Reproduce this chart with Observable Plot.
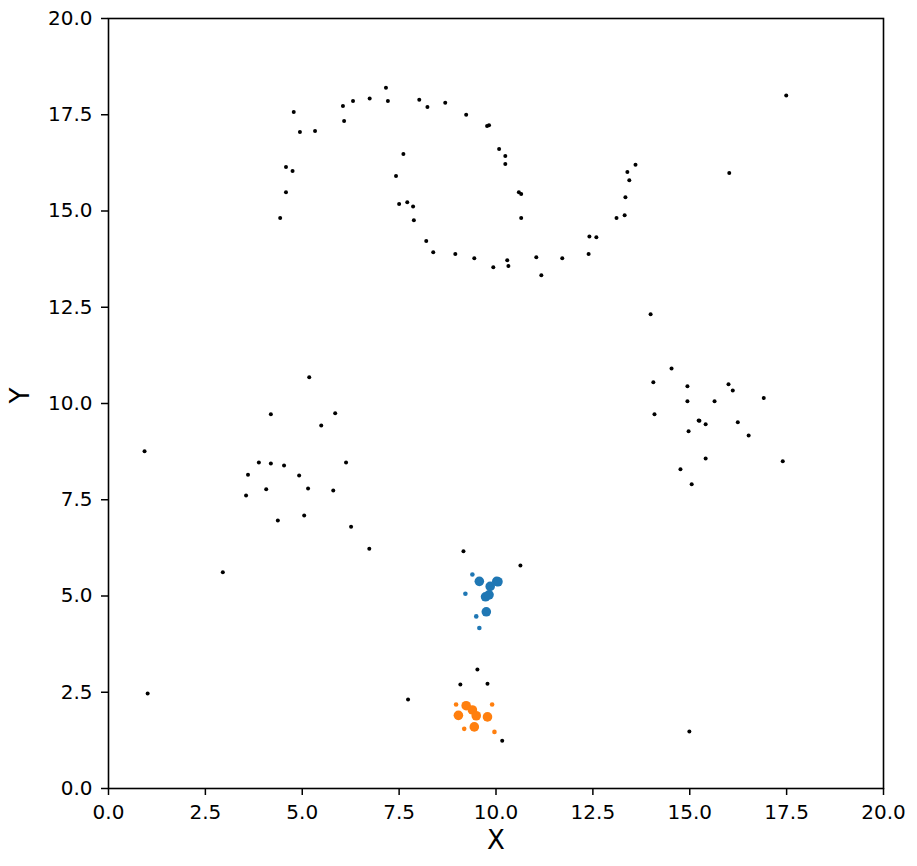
<!DOCTYPE html>
<html>
<head>
<meta charset="utf-8">
<script src="https://cdn.jsdelivr.net/npm/d3@7"></script>
<script src="https://cdn.jsdelivr.net/npm/@observablehq/plot@0.6"></script>
<style>
  html, body { margin: 0; padding: 0; background: #fff; }
  #chart svg { display: block; }
</style>
</head>
<body>
<div id="chart"></div>
<script>
// Background (noise / ring / clusters) points
const blackX = [7.16,4.78,4.94,5.33,6.05,6.08,6.31,6.74,7.21,8.02,8.23,8.69,9.23,9.77,9.82,10.08,10.24,10.24,10.59,10.65,10.65,4.58,4.75,4.58,4.43,7.61,7.42,7.50,7.71,7.86,7.88,8.20,8.38,8.95,9.44,9.93,10.29,10.32,11.04,11.17,11.71,12.39,12.41,12.59,13.11,13.32,13.34,13.44,13.39,13.60,17.49,16.02,
  13.99,14.53,14.06,14.94,14.94,14.09,16.00,16.11,15.64,16.91,15.23,15.25,15.41,14.97,16.24,16.52,15.41,17.40,14.76,15.05,
  5.18,4.19,5.85,5.49,3.88,4.19,4.53,3.60,6.13,4.92,4.07,3.55,5.15,5.80,4.37,5.05,6.26,6.73,
  0.93,2.95,1.01,14.99,7.73,9.16,10.63,9.52,9.08,9.78,10.16];
const blackY = [18.20,17.57,17.05,17.08,17.73,17.34,17.86,17.92,17.86,17.89,17.70,17.81,17.50,17.21,17.23,16.61,16.43,16.22,15.49,15.44,14.82,16.14,16.04,15.49,14.82,16.48,15.91,15.18,15.23,15.12,14.76,14.22,13.93,13.88,13.77,13.54,13.72,13.57,13.80,13.33,13.77,13.88,14.34,14.32,14.82,14.89,15.36,15.80,16.01,16.20,18.00,15.99,
  12.32,10.91,10.55,10.45,10.06,9.72,10.50,10.34,10.06,10.14,9.56,9.55,9.46,9.28,9.51,9.17,8.57,8.50,8.29,7.90,
  10.68,9.72,9.75,9.43,8.47,8.44,8.39,8.15,8.47,8.13,7.77,7.61,7.79,7.74,6.96,7.09,6.80,6.23,
  8.76,5.62,2.47,1.48,2.31,6.16,5.79,3.09,2.70,2.72,1.24];

// Blue cluster
const blueSmallX = [9.39,9.21,9.49,9.57];
const blueSmallY = [5.56,5.06,4.47,4.17];
const blueLargeX = [9.57,9.85,10.02,10.05,9.73,9.82,9.75];
const blueLargeY = [5.38,5.25,5.38,5.37,4.98,5.03,4.59];

// Orange cluster
const orangeSmallX = [8.97,9.90,9.18,9.96];
const orangeSmallY = [2.18,2.18,1.55,1.47];
const orangeLargeX = [9.23,9.39,9.49,9.03,9.78,9.44];
const orangeLargeY = [2.15,2.04,1.89,1.90,1.86,1.60];

const xTicks = [0, 2.5, 5, 7.5, 10, 12.5, 15, 17.5, 20];
const yTicks = [0, 2.5, 5, 7.5, 10, 12.5, 15, 17.5, 20];
const xLabel = "X";
const yLabel = "Y";

const zip = (xs, ys) => xs.map((x, i) => ({x, y: ys[i]}));
const black = zip(blackX, blackY);
const blueSmall = zip(blueSmallX, blueSmallY);
const blueLarge = zip(blueLargeX, blueLargeY);
const orangeSmall = zip(orangeSmallX, orangeSmallY);
const orangeLarge = zip(orangeLargeX, orangeLargeY);

const fmt = d3.format(".1f");

const chart = Plot.plot({
  width: 917,
  height: 866,
  marginLeft: 108,
  marginRight: 34,
  marginTop: 18,
  marginBottom: 78,
  style: {fontFamily: "DejaVu Sans", fontSize: "20px", color: "#000", background: "#fff"},
  x: {domain: [0, 20]},
  y: {domain: [0, 20]},
  marks: [
    Plot.axisX({ticks: xTicks, tickFormat: fmt, tickSize: 7, tickPadding: 9, label: null, fontSize: 20, strokeWidth: 1.5}),
    Plot.axisY({ticks: yTicks, tickFormat: fmt, tickSize: 7, tickPadding: 9, label: null, fontSize: 20, strokeWidth: 1.5}),
    Plot.dot(black, {x: "x", y: "y", r: 2, fill: "#000", stroke: "none"}),
    Plot.dot(blueSmall, {x: "x", y: "y", r: 2.3, fill: "#1f77b4", stroke: "none"}),
    Plot.dot(blueLarge, {x: "x", y: "y", r: 4.8, fill: "#1f77b4", stroke: "none"}),
    Plot.dot(orangeSmall, {x: "x", y: "y", r: 2.3, fill: "#ff7f0e", stroke: "none"}),
    Plot.dot(orangeLarge, {x: "x", y: "y", r: 4.8, fill: "#ff7f0e", stroke: "none"}),
    Plot.frame({stroke: "#000", strokeWidth: 1.6}),
    Plot.text([xLabel], {frameAnchor: "bottom", dy: 60, fontSize: 26, fill: "#000"}),
    Plot.text([yLabel], {frameAnchor: "left", dx: -88, rotate: -90, fontSize: 26, fill: "#000"})
  ]
});
document.getElementById("chart").appendChild(chart);
</script>
</body>
</html>
